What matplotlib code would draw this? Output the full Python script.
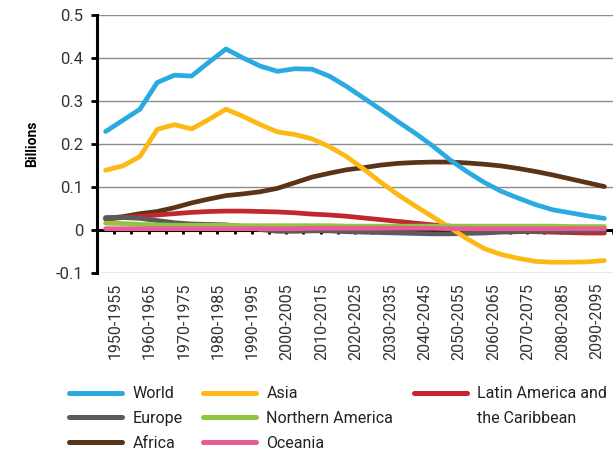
import matplotlib
matplotlib.use("Agg")
import matplotlib.pyplot as plt
from matplotlib.lines import Line2D
import numpy as np

plt.rcParams['font.family'] = ['DejaVu Sans Condensed', 'Roboto', 'DejaVu Sans']

periods = ["1950-1955", "1955-1960", "1960-1965", "1965-1970", "1970-1975",
           "1975-1980", "1980-1985", "1985-1990", "1990-1995", "1995-2000",
           "2000-2005", "2005-2010", "2010-2015", "2015-2020", "2020-2025",
           "2025-2030", "2030-2035", "2035-2040", "2040-2045", "2045-2050",
           "2050-2055", "2055-2060", "2060-2065", "2065-2070", "2070-2075",
           "2075-2080", "2080-2085", "2085-2090", "2090-2095", "2095-2100"]

world = [0.229, 0.255, 0.281, 0.343, 0.360, 0.358, 0.390, 0.421, 0.400, 0.381,
         0.369, 0.375, 0.374, 0.358, 0.334, 0.307, 0.280, 0.252, 0.225, 0.196,
         0.164, 0.136, 0.111, 0.090, 0.074, 0.059, 0.047, 0.040, 0.033, 0.027]
asia = [0.139, 0.149, 0.171, 0.234, 0.245, 0.235, 0.257, 0.281, 0.264, 0.245,
        0.228, 0.222, 0.212, 0.194, 0.171, 0.142, 0.111, 0.082, 0.056, 0.031,
        0.006, -0.020, -0.043, -0.057, -0.066, -0.073, -0.075, -0.075, -0.074, -0.071]
latam = [0.025, 0.029, 0.032, 0.035, 0.038, 0.041, 0.043, 0.044, 0.044, 0.043,
         0.042, 0.040, 0.037, 0.035, 0.032, 0.028, 0.024, 0.020, 0.016, 0.012,
         0.009, 0.005, 0.002, 0.000, -0.002, -0.004, -0.005, -0.006, -0.007, -0.007]
europe = [0.029, 0.029, 0.027, 0.022, 0.017, 0.014, 0.013, 0.012, 0.008, 0.001,
          -0.003, -0.003, -0.002, -0.002, -0.004, -0.005, -0.006, -0.007, -0.008, -0.009,
          -0.009, -0.008, -0.007, -0.005, -0.004, -0.003, -0.002, -0.002, -0.001, -0.001]
n_america = [0.016, 0.015, 0.013, 0.012, 0.011, 0.011, 0.011, 0.011, 0.010, 0.010,
             0.010, 0.010, 0.010, 0.010, 0.009, 0.009, 0.009, 0.009, 0.009, 0.009,
             0.009, 0.009, 0.009, 0.009, 0.009, 0.009, 0.009, 0.008, 0.008, 0.008]
africa = [0.027, 0.031, 0.038, 0.043, 0.052, 0.063, 0.072, 0.080, 0.084, 0.089,
          0.097, 0.110, 0.123, 0.132, 0.140, 0.145, 0.151, 0.155, 0.157, 0.158,
          0.158, 0.156, 0.153, 0.149, 0.143, 0.136, 0.128, 0.119, 0.110, 0.101]
oceania = [0.003, 0.003, 0.003, 0.003, 0.003, 0.003, 0.003, 0.003, 0.003, 0.003,
           0.003, 0.003, 0.004, 0.004, 0.004, 0.004, 0.004, 0.004, 0.004, 0.004,
           0.003, 0.003, 0.003, 0.003, 0.003, 0.003, 0.003, 0.003, 0.003, 0.003]

colors = {
    "World": "#29abe2",
    "Europe": "#5a5b5d",
    "Africa": "#5b3418",
    "Asia": "#fdb913",
    "Northern America": "#8dc63f",
    "Oceania": "#ec5a96",
    "Latin America and the Caribbean": "#c1272d",
}

fig = plt.figure(figsize=(6.13, 4.53), dpi=100)
ax = fig.add_axes([97 / 613, 1 - 273 / 453, 516 / 613, 258 / 453])

x = np.arange(len(periods))
lw = 3.4
# drawing order roughly as in the original
ax.plot(x, africa, color=colors["Africa"], lw=lw, zorder=3, solid_capstyle='round')
ax.plot(x, latam, color=colors["Latin America and the Caribbean"], lw=lw, zorder=3, solid_capstyle='round')
ax.plot(x, europe, color=colors["Europe"], lw=lw, zorder=3, solid_capstyle='round')
ax.plot(x, asia, color=colors["Asia"], lw=lw, zorder=3, solid_capstyle='round')
ax.plot(x, world, color=colors["World"], lw=lw, zorder=3, solid_capstyle='round')
ax.plot(x, n_america, color=colors["Northern America"], lw=lw, zorder=3, solid_capstyle='round')
ax.plot(x, oceania, color=colors["Oceania"], lw=lw, zorder=3, solid_capstyle='round')

ax.set_xlim(-0.5, len(periods) - 0.5)
ax.set_ylim(-0.1, 0.5)
ax.set_yticks([-0.1, 0, 0.1, 0.2, 0.3, 0.4, 0.5])
ax.set_yticklabels(["-0.1", "0", "0.1", "0.2", "0.3", "0.4", "0.5"])
ax.yaxis.grid(True, color="#8c8c8c", lw=1)
ax.set_axisbelow(True)

for s in ["top", "right"]:
    ax.spines[s].set_visible(False)
ax.spines["left"].set_linewidth(2.2)
ax.spines["bottom"].set_position(("data", 0))
ax.spines["bottom"].set_linewidth(2.2)

ax.tick_params(axis="y", direction="out", length=4, width=2, pad=6,
               labelsize=12, labelcolor="#333333")

# labels every other period, dot ticks at every category boundary
ax.set_xticks(x[::2] + 0.55)
ax.set_xticklabels(periods[::2], rotation=90, fontsize=11.5, color="#333333")
ax.set_xticks(np.arange(len(periods)) + 0.5, minor=True)
ax.tick_params(axis="x", which="major", length=0, pad=38)
ax.tick_params(axis="x", which="minor", direction="out", length=3, width=2)

ax.set_ylabel("Billions", fontsize=10, fontweight="bold", labelpad=12)

handles = [
    Line2D([], [], color=colors["World"], lw=3.6, solid_capstyle='round'),
    Line2D([], [], color=colors["Europe"], lw=3.6, solid_capstyle='round'),
    Line2D([], [], color=colors["Africa"], lw=3.6, solid_capstyle='round'),
    Line2D([], [], color=colors["Asia"], lw=3.6, solid_capstyle='round'),
    Line2D([], [], color=colors["Northern America"], lw=3.6, solid_capstyle='round'),
    Line2D([], [], color=colors["Oceania"], lw=3.6, solid_capstyle='round'),
    Line2D([], [], color=colors["Latin America and the Caribbean"], lw=3.6, solid_capstyle='round'),
    Line2D([], [], color="none"),
    Line2D([], [], color="none"),
]
labels = ["World", "Europe", "Africa", "Asia", "Northern America", "Oceania",
          "Latin America and", "the Caribbean", ""]
fig.legend(handles, labels, ncol=3, loc="upper left", bbox_to_anchor=(55 / 613, 1 - 372 / 453),
           frameon=False, fontsize=11.5, handlelength=3.3, handletextpad=0.65,
           labelspacing=0.6, columnspacing=1.3, labelcolor="#222222")

fig.savefig("out.png", dpi=100)
